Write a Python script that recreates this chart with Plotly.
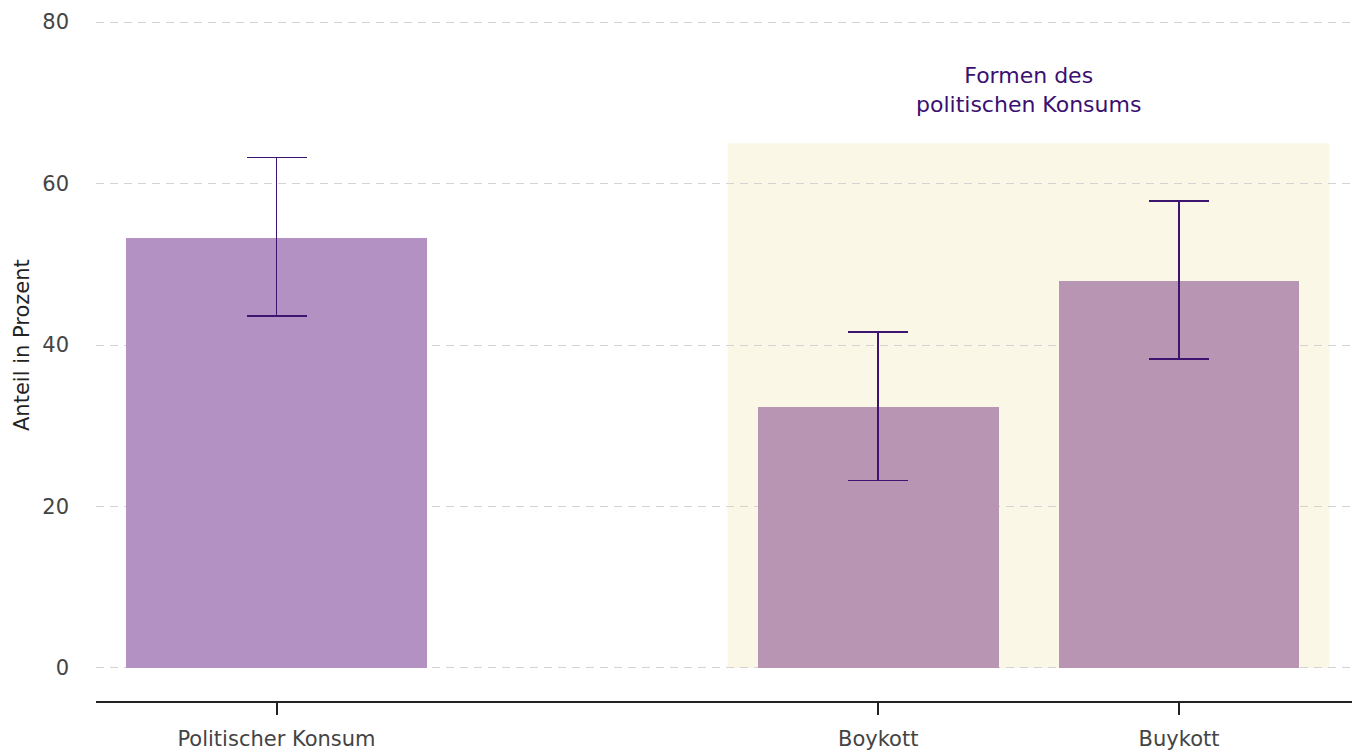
import plotly.graph_objects as go

categories = ["Politischer Konsum", "Boykott", "Buykott"]
positions = [0, 2, 3]
values = [53.3, 32.3, 47.9]
err_upper = [63.2, 41.6, 57.8]
err_lower = [43.6, 23.2, 38.3]
bar_widths = [1.0, 0.8, 0.8]
bar_colors = ["#b491c3", "#b995b4", "#b995b4"]
y_ticks = [0, 20, 40, 60, 80]
highlight_x = [1.5, 3.5]
highlight_top = 65
highlight_label = "Formen des<br>politischen Konsums"
y_title = "Anteil in Prozent"

FONT = "DejaVu Sans"

fig = go.Figure()
fig.add_trace(go.Bar(
    x=positions, y=values, width=bar_widths,
    marker=dict(color=bar_colors, line=dict(width=0)),
    error_y=dict(
        type="data", symmetric=False,
        array=[u - v for u, v in zip(err_upper, values)],
        arrayminus=[v - l for v, l in zip(values, err_lower)],
        color="#3d1470", thickness=1.6, width=30,
    ),
    hoverinfo="skip",
))

fig.add_shape(type="rect", xref="x", yref="y",
              x0=highlight_x[0], x1=highlight_x[1], y0=0, y1=highlight_top,
              fillcolor="#fbf7e7", line=dict(width=0), layer="below")

fig.add_annotation(x=sum(highlight_x) / 2, y=highlight_top, xref="x", yref="y",
                   text=highlight_label, showarrow=False, yanchor="bottom", yshift=24,
                   font=dict(family=FONT, size=22, color="#3b0f70"))

fig.add_annotation(x=0, y=(y_ticks[0] + y_ticks[-1]) / 2, xref="paper", yref="y",
                   text=y_title, showarrow=False, textangle=-90,
                   xanchor="center", yanchor="middle", xshift=-74,
                   font=dict(family=FONT, size=21, color="#222222"))

fig.update_layout(
    width=1352, height=751,
    margin=dict(l=96, r=0, t=18, b=50),
    plot_bgcolor="white", paper_bgcolor="white",
    showlegend=False,
    font=dict(family=FONT, color="#444444"),
    bargap=0,
)
fig.update_xaxes(
    range=[-0.6, 3.575],
    tickvals=positions, ticktext=categories,
    showgrid=False, zeroline=False,
    showline=True, linecolor="#222222", linewidth=1.5,
    ticks="outside", ticklen=12, tickcolor="#222222", tickwidth=1.5,
    ticklabelstandoff=6,
    tickfont=dict(family=FONT, size=21, color="#444444"),
)
fig.update_yaxes(
    range=[-4.09, 80.5],
    tickvals=y_ticks,
    showgrid=True, gridcolor="#d3d3d3", gridwidth=1, griddash="8px,6px",
    zeroline=False, showline=False, ticks="",
    ticklabelstandoff=26,
    tickfont=dict(family=FONT, size=21, color="#444444"),
)

fig.write_html("out.html", config={"displayModeBar": False},
               post_script="document.body.style.margin='0';document.body.style.overflow='hidden';")
